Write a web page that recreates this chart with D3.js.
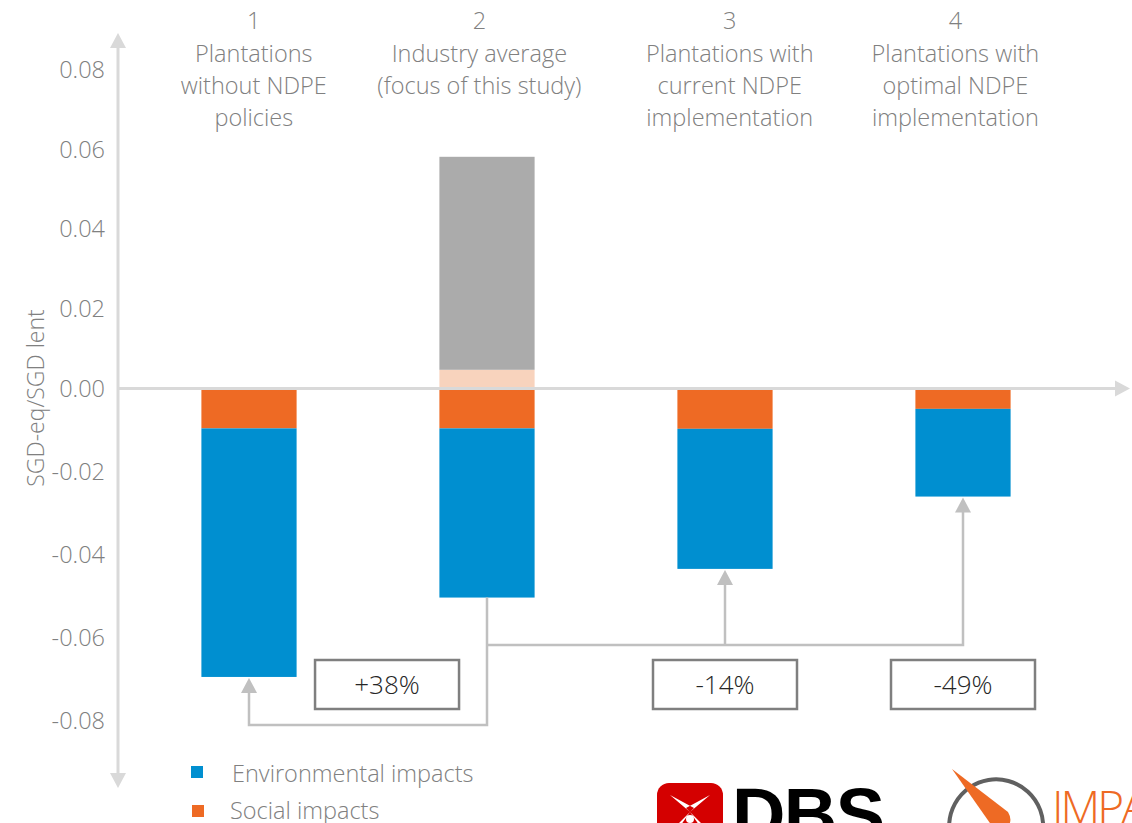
<!DOCTYPE html>
<html>
<head>
<meta charset="utf-8">
<script src="https://cdn.jsdelivr.net/npm/d3@7"></script>
<style>
  body { margin: 0; background: #fff; }
  svg { display: block; font-family: "Open Sans", "DejaVu Sans", sans-serif; }
</style>
</head>
<body>
<div id="chart"></div>
<script>
// chart values
var categories = ["1", "2", "3", "4"];
var categoryLabels = [
  ["Plantations", "without NDPE", "policies"],
  ["Industry average", "(focus of this study)"],
  ["Plantations with", "current NDPE", "implementation"],
  ["Plantations with", "optimal NDPE", "implementation"]
];
var socialImpacts = [-0.0096, -0.0096, -0.0097, -0.0049];
var environmentalImpacts = [-0.0598, -0.0407, -0.0337, -0.0211];
var socialBenefits = [0, 0.0047, 0, 0];
var otherBenefits = [0, 0.0535, 0, 0];
var changeLabels = ["+38%", "", "-14%", "-49%"];
var yTicks = [0.08, 0.06, 0.04, 0.02, 0, -0.02, -0.04, -0.06, -0.08];
var legendLabels = ["Environmental impacts", "Social impacts"];

var colors = {
  env: "#008fd0",
  social: "#ee6a24",
  socialPos: "#f8d3bd",
  other: "#ababab",
  axis: "#d9d9d9",
  link: "#c0c0c0",
  text: "#808080"
};

var width = 1132, height = 823;

var svg = d3.select("#chart").append("svg")
    .attr("width", width)
    .attr("height", height);

// scales (labels above and below zero are spaced a little differently)
var x = d3.scaleBand()
    .domain(categories)
    .range([130, 1082])
    .paddingInner(0.6)
    .paddingOuter(0.3);

var y = d3.scaleLinear()
    .domain([-0.08, 0, 0.08])
    .range([721, 388.5, 70]);

var axisX = 118;

// y axis line with arrows both ends
svg.append("line")
    .attr("x1", axisX).attr("x2", axisX)
    .attr("y1", 46).attr("y2", 775)
    .attr("stroke", colors.axis)
    .attr("stroke-width", 3);
svg.append("path")
    .attr("d", "M" + axisX + ",33 l8,15 h-16 z")
    .attr("fill", colors.axis);
svg.append("path")
    .attr("d", "M" + axisX + ",788 l8,-15 h-16 z")
    .attr("fill", colors.axis);

var yAxis = d3.axisLeft(y)
    .tickValues(yTicks)
    .tickSize(0)
    .tickPadding(13)
    .tickFormat(function(d) { return d.toFixed(2); });

var gy = svg.append("g")
    .attr("transform", "translate(" + axisX + ",0)")
    .call(yAxis);
gy.select(".domain").remove();
gy.selectAll("text")
    .attr("fill", colors.text)
    .style("font-size", "23.5px")
    .style("font-weight", 300)
    .style("font-family", "'Open Sans', sans-serif");

svg.append("text")
    .attr("transform", "translate(44," + 398 + ") rotate(-90)")
    .attr("text-anchor", "middle")
    .attr("fill", colors.text)
    .style("font-size", "23px")
    .style("font-weight", 300)
    .text("SGD-eq/SGD lent");

// bar segments
var segments = [];
categories.forEach(function(c, i) {
  segments.push({cat: c, y0: 0, y1: socialImpacts[i], color: colors.social});
  segments.push({cat: c, y0: socialImpacts[i], y1: socialImpacts[i] + environmentalImpacts[i], color: colors.env});
  if (socialBenefits[i] > 0)
    segments.push({cat: c, y0: 0, y1: socialBenefits[i], color: colors.socialPos});
  if (otherBenefits[i] > 0)
    segments.push({cat: c, y0: socialBenefits[i], y1: socialBenefits[i] + otherBenefits[i], color: colors.other});
});

svg.selectAll(".bar")
    .data(segments)
  .enter().append("rect")
    .attr("class", "bar")
    .attr("x", function(d) { return x(d.cat); })
    .attr("width", x.bandwidth())
    .attr("y", function(d) { return Math.min(y(d.y0), y(d.y1)); })
    .attr("height", function(d) { return Math.abs(y(d.y1) - y(d.y0)); })
    .attr("fill", function(d) { return d.color; });

// x axis line with arrow
svg.append("line")
    .attr("x1", axisX).attr("x2", 1116)
    .attr("y1", y(0)).attr("y2", y(0))
    .attr("stroke", colors.axis)
    .attr("stroke-width", 3);
svg.append("path")
    .attr("d", "M1130," + y(0) + " l-15,-8 v16 z")
    .attr("fill", colors.axis);

// category headings (slightly off the bar centres, as in the source)
var headShift = x.step() * 0.02;
categories.forEach(function(c, i) {
  var cx = x(c) + x.bandwidth() / 2 + (i % 2 === 0 ? headShift : -headShift * 1.6);
  var t = svg.append("text")
      .attr("text-anchor", "middle")
      .attr("fill", colors.text)
      .style("font-size", "23.5px")
      .style("font-weight", 300);
  t.append("tspan").attr("x", cx).attr("y", 29).text(c);
  categoryLabels[i].forEach(function(line, j) {
    t.append("tspan").attr("x", cx).attr("y", 62 + j * 32).text(line);
  });
});

// connectors from the industry average to the others
function center(i) { return x(categories[i]) + x.bandwidth() / 2; }
function bottom(i) { return y(socialImpacts[i] + environmentalImpacts[i]); }

var lowY = 725, highY = 645;
var links = svg.append("g")
    .attr("fill", "none")
    .attr("stroke", colors.link)
    .attr("stroke-width", 2.5);

links.append("path")
    .attr("d", "M" + center(1) + "," + bottom(1) + " V" + lowY + " H" + center(0) + " V" + (bottom(0) + 14));
links.append("path")
    .attr("d", "M" + center(1) + "," + highY + " H" + center(3) + " V" + (bottom(3) + 14));
links.append("path")
    .attr("d", "M" + center(2) + "," + highY + " V" + (bottom(2) + 14));

[0, 2, 3].forEach(function(i) {
  svg.append("path")
      .attr("d", "M" + center(i) + "," + (bottom(i) + 1) + " l8,15 h-16 z")
      .attr("fill", colors.link);
});

// change boxes
changeLabels.forEach(function(lbl, i) {
  if (!lbl) return;
  var cx = i === 0 ? center(0) + x.step() * 0.58 : center(i);
  svg.append("rect")
      .attr("x", cx - 72).attr("y", 660)
      .attr("width", 144).attr("height", 49)
      .attr("fill", "#fff")
      .attr("stroke", "#7f7f7f")
      .attr("stroke-width", 2.5);
  svg.append("text")
      .attr("x", cx).attr("y", 694)
      .attr("text-anchor", "middle")
      .attr("fill", "#262626")
      .style("font-size", "26px")
      .style("font-weight", 300)
      .text(lbl);
});

// legend
var legend = svg.append("g");
legendLabels.forEach(function(lbl, i) {
  legend.append("rect")
      .attr("x", 191 + i).attr("y", 766 + i * 39)
      .attr("width", 12).attr("height", 12)
      .attr("fill", i === 0 ? colors.env : colors.social);
  legend.append("text")
      .attr("x", 232 - i * 2).attr("y", 782 + i * 37)
      .attr("fill", colors.text)
      .style("font-size", "23.5px")
      .style("font-weight", 300)
      .text(lbl);
});

// logos (cut off by the bottom edge)
var dbs = svg.append("g");
dbs.append("rect")
    .attr("x", 657).attr("y", 783)
    .attr("width", 66).attr("height", 70)
    .attr("rx", 12)
    .attr("fill", "#d40000");
dbs.append("path")
    .attr("d", "M670,795 L690,812 L694,808 Z M710,795 L690,812 L686,808 Z M690,812 L672,830 L676,832 Z M690,812 L708,830 L704,832 Z")
    .attr("fill", "#fff");
dbs.append("circle")
    .attr("cx", 690).attr("cy", 819).attr("r", 4)
    .attr("fill", "#fff");
dbs.append("text")
    .attr("x", 732).attr("y", 840)
    .attr("fill", "#000")
    .style("font-family", "'Liberation Sans', Arial, sans-serif")
    .style("font-weight", 700)
    .style("font-size", "74px")
    .attr("textLength", 153)
    .text("DBS");

var imp = svg.append("g");
imp.append("path")
    .attr("d", "M953,845 A47,47 0 1 1 1043,830")
    .attr("fill", "none")
    .attr("stroke", "#606060")
    .attr("stroke-width", 4);
imp.append("path")
    .attr("d", "M952,769 L1008,812 Q1014,822 1005,830 L992,826 Z")
    .attr("fill", colors.social);
imp.append("text")
    .attr("x", 1052).attr("y", 824)
    .attr("fill", colors.social)
    .style("font-size", "46px")
    .style("font-weight", 300)
    .style("letter-spacing", "-3px")
    .text("IMPACT");
</script>
</body>
</html>
